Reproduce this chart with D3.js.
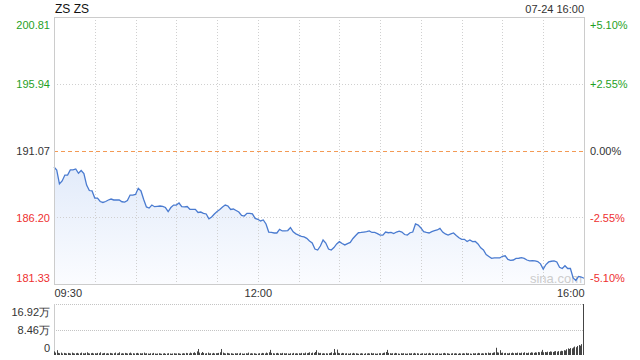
<!DOCTYPE html>
<html lang="en">
<head>
<meta charset="utf-8">
<style>
    body { margin: 0; background: #fff; }
    text { font-family: "Liberation Sans", Arial, sans-serif; }
</style>
</head>
<body>
    <script src='https://d3js.org/d3.v7.min.js'></script>

    <script>
        const title = "ZS ZS";
        const stamp = "07-24 16:00";
        const prevClose = 191.07;

        // left / right axis labels
        const priceTicks = [181.33, 186.20, 191.07, 195.94, 200.81];
        const pctTicks = [-5.10, -2.55, 0, 2.55, 5.10];
        const timeTicks = [0, 150, 390];
        const timeLabels = ["09:30", "12:00", "16:00"];
        const volTicks = [0, 8.46, 16.92];
        const volLabels = ["0", "8.46万", "16.92万"];

        // price every 2 minutes from 09:30
        const priceStep = 2;
        const prices = [
            189.87, 189.65, 188.63, 188.85, 189.28, 189.28, 189.65, 189.65, 189.72, 189.41,
            189.61, 189.39, 188.55, 188.15, 188.12, 187.60, 187.60, 187.35, 187.28, 187.35,
            187.46, 187.53, 187.46, 187.46, 187.46, 187.33, 187.31, 187.42, 187.82, 187.82,
            187.86, 188.31, 188.12, 187.49, 186.95, 186.87, 187.09, 186.97, 187.00, 187.02,
            187.00, 186.91, 186.62, 186.91, 187.09, 187.09, 187.24, 186.97, 186.95, 186.98,
            186.78, 186.78, 186.77, 186.55, 186.58, 186.49, 186.44, 186.09, 186.22, 186.44,
            186.62, 186.77, 186.95, 187.09, 187.02, 186.77, 186.80, 186.69, 186.58, 186.33,
            186.29, 186.49, 186.49, 186.45, 186.12, 186.05, 185.93, 186.00, 185.71, 185.12,
            185.09, 185.05, 185.05, 185.31, 185.20, 185.20, 185.23, 185.45, 185.14, 184.99,
            184.89, 184.80, 184.76, 184.66, 184.47, 184.32, 183.88, 183.81, 184.10, 184.54,
            184.32, 183.88, 183.81, 183.99, 184.25, 184.42, 184.28, 184.18, 184.28, 184.36,
            184.65, 184.87, 185.07, 185.09, 185.12, 185.15, 185.20, 185.09, 185.09, 185.01,
            184.90, 184.90, 185.12, 185.07, 185.10, 185.01, 185.12, 185.18, 185.12, 184.94,
            184.90, 185.07, 185.12, 185.71, 185.63, 185.42, 185.15, 185.09, 185.05, 185.15,
            185.22, 185.27, 185.39, 185.12, 184.98, 184.90, 184.98, 185.05, 184.87, 184.70,
            184.59, 184.59, 184.43, 184.54, 184.42, 184.43, 184.25, 183.97, 183.81, 183.48,
            183.34, 183.20, 183.23, 183.23, 183.23, 183.35, 183.39, 183.12, 183.06, 183.08,
            183.20, 183.21, 183.25, 183.20, 183.08, 183.02, 183.04, 183.01, 182.97, 182.80,
            182.42, 182.75, 182.94, 182.99, 183.02, 182.94, 182.55, 182.46, 182.66, 182.46,
            182.46, 181.77, 181.59, 181.88, 181.84, 181.75
        ];

        // volume per minute, in 万 shares
        const volumes = [
            1.2, 0.8, 1.6, 0.7, 0.6, 0.8, 0.5, 0.7, 0.6, 0.5, 0.7, 0.6, 0.5, 0.8, 0.6, 0.5, 0.6, 0.7, 0.5, 0.6, 0.8, 0.6, 0.5, 0.7, 0.9, 0.6, 0.5, 0.6, 0.7, 0.5,
            0.6, 0.5, 0.7, 0.6, 0.9, 0.5, 0.6, 0.7, 0.5, 0.6, 0.5, 0.7, 0.6, 0.5, 0.6, 0.8, 0.5, 0.6, 0.9, 0.5, 0.6, 0.5, 0.7, 0.6, 0.5, 0.6, 0.8, 0.5, 0.6, 0.5,
            0.6, 0.7, 0.5, 0.6, 0.5, 0.6, 0.8, 0.5, 0.6, 0.5, 0.4, 0.6, 0.5, 0.7, 0.5, 0.4, 0.5, 0.6, 0.5, 0.4, 0.5, 0.6, 0.4, 0.5, 0.6, 0.5, 0.4, 0.5, 0.6, 0.5,
            0.5, 0.6, 0.5, 0.4, 0.5, 0.6, 0.5, 0.7, 0.6, 0.5, 0.8, 0.6, 0.7, 0.9, 0.6, 1.2, 2.0, 0.8, 0.6, 1.0, 0.7, 0.5, 0.6, 0.8, 0.5, 0.6, 0.5, 0.7, 0.5, 0.6,
            0.6, 0.7, 0.9, 2.0, 0.8, 0.6, 0.5, 0.7, 0.6, 0.5, 0.6, 0.5, 0.4, 0.6, 0.5, 0.6, 0.5, 0.7, 0.5, 0.4, 0.5, 0.6, 0.5, 0.8, 0.5, 0.6, 0.5, 0.6, 0.5, 0.4,
            0.5, 0.6, 0.5, 0.7, 0.6, 0.5, 0.8, 0.6, 0.9, 1.7, 0.7, 0.6, 0.5, 0.6, 0.7, 0.5, 0.6, 0.5, 0.7, 0.6, 0.5, 0.6, 0.5, 0.4, 0.6, 0.5, 0.7, 0.5, 0.6, 0.5,
            0.6, 0.5, 0.7, 0.6, 0.5, 0.8, 0.6, 0.7, 0.9, 0.6, 0.8, 0.7, 1.0, 1.6, 0.8, 0.6, 0.7, 0.5, 0.6, 0.5, 0.6, 0.5, 0.6, 0.7, 0.9, 0.6, 2.0, 0.8, 1.8, 0.7,
            0.6, 0.5, 0.7, 0.6, 0.5, 0.6, 0.5, 0.4, 0.6, 0.5, 0.7, 0.5, 0.6, 0.5, 0.4, 0.5, 0.6, 0.5, 0.4, 0.6, 0.5, 0.6, 0.5, 0.7, 0.5, 0.6, 0.5, 0.4, 0.5, 0.6,
            0.6, 0.5, 0.7, 0.8, 1.0, 1.7, 0.7, 0.6, 0.5, 0.6, 0.5, 0.7, 0.6, 0.5, 0.4, 0.6, 0.5, 0.6, 0.5, 0.4, 0.5, 0.6, 0.5, 0.6, 0.5, 0.7, 0.5, 0.6, 0.5, 0.4,
            0.5, 0.6, 0.5, 0.4, 0.6, 0.5, 0.7, 0.5, 0.6, 0.5, 0.4, 0.5, 0.6, 0.5, 0.4, 0.5, 0.6, 0.7, 0.5, 0.6, 0.5, 0.4, 0.5, 0.6, 0.5, 0.6, 0.5, 0.4, 0.6, 0.5,
            0.5, 0.6, 0.5, 0.7, 0.5, 0.6, 0.5, 0.4, 0.6, 0.5, 0.6, 0.5, 0.7, 0.6, 0.5, 0.6, 0.5, 0.7, 0.6, 0.8, 0.6, 0.7, 0.6, 0.8, 0.9, 2.4, 0.9, 0.8, 1.6, 0.7,
            0.8, 0.6, 0.7, 0.6, 0.5, 0.7, 0.6, 0.8, 0.6, 0.7, 0.6, 0.8, 0.7, 0.6, 0.8, 0.7, 0.9, 0.7, 0.6, 0.8, 0.7, 0.9, 0.8, 0.7, 0.9, 0.8, 1.0, 0.9, 1.1, 1.7,
            0.9, 1.0, 0.9, 1.1, 1.0, 1.2, 1.1, 1.0, 1.2, 1.3, 1.1, 1.3, 1.2, 1.4, 1.3, 1.6, 1.5, 1.9, 2.2, 2.0, 2.3, 2.2, 2.5, 2.8, 2.6, 3.0, 3.3, 3.1, 3.6, 5.6,
            16.92
        ];

        const width = 640, height = 360;
        const plotLeft = 54, plotRight = 584, plotTop = 17, plotBottom = 284;
        const volTop = 304, volBottom = 355;

        const green = "#1f9f1f", red = "#ee3030", dark = "#333";

        var svg = d3.select("body").append("svg")
            .attr("width", width)
            .attr("height", height);

        var x = d3.scaleLinear().domain([0, 390]).range([plotLeft, plotRight]);
        var y = d3.scaleLinear().domain([181.33, 200.81]).range([plotBottom, plotTop]);
        var yPct = d3.scaleLinear().domain([-5.10, 5.10]).range([plotBottom, plotTop]);
        var yVol = d3.scaleLinear().domain([0, 16.92]).range([volBottom, volTop]);

        var defs = svg.append("defs");
        var grad = defs.append("linearGradient")
            .attr("id", "fillGrad")
            .attr("gradientUnits", "userSpaceOnUse")
            .attr("x1", 0).attr("x2", 0)
            .attr("y1", y(d3.max(prices))).attr("y2", plotBottom);
        grad.append("stop").attr("offset", "0%").attr("stop-color", "#e2ebfa");
        grad.append("stop").attr("offset", "100%").attr("stop-color", "#fbfcff");

        var pts = prices.map((p, i) => [i * priceStep, p]);

        svg.append("path")
            .datum(pts)
            .attr("fill", "url(#fillGrad)")
            .attr("d", d3.area().x(d => x(d[0])).y0(plotBottom).y1(d => y(d[1])));

        // vertical grid, every half hour
        svg.append("g").selectAll("line")
            .data(d3.range(30, 390, 30))
            .enter().append("line")
            .attr("x1", d => Math.round(x(d)) + 0.5).attr("x2", d => Math.round(x(d)) + 0.5)
            .attr("y1", plotTop).attr("y2", plotBottom)
            .attr("stroke", "#d0d0d0")
            .attr("stroke-dasharray", "1,2");

        // horizontal grid
        svg.append("g").selectAll("line")
            .data([186.20, 195.94])
            .enter().append("line")
            .attr("x1", plotLeft).attr("x2", plotRight)
            .attr("y1", d => Math.round(y(d)) + 0.5).attr("y2", d => Math.round(y(d)) + 0.5)
            .attr("stroke", "#d0d0d0")
            .attr("stroke-dasharray", "1,2");

        // watermark
        svg.append("text")
            .attr("x", plotRight - 2).attr("y", plotBottom - 1)
            .attr("text-anchor", "end")
            .attr("font-size", 13)
            .attr("fill", "#cccccc")
            .text("sina.com");

        // previous close
        svg.append("line")
            .attr("x1", plotLeft).attr("x2", plotRight)
            .attr("y1", Math.round(y(prevClose)) + 0.5).attr("y2", Math.round(y(prevClose)) + 0.5)
            .attr("stroke", "#f39a55")
            .attr("stroke-dasharray", "4,3");

        svg.append("path")
            .datum(pts)
            .attr("fill", "none")
            .attr("stroke", "#4a7bd0")
            .attr("stroke-width", 1.3)
            .attr("d", d3.line().x(d => x(d[0])).y(d => y(d[1])));

        // frame
        svg.append("rect")
            .attr("x", plotLeft + 0.5).attr("y", plotTop + 0.5)
            .attr("width", plotRight - plotLeft).attr("height", plotBottom - plotTop)
            .attr("fill", "none")
            .attr("stroke", "#cccccc");

        function colorOf(v, mid) {
            if (v > mid + 0.001) return green;
            if (v < mid - 0.001) return red;
            return dark;
        }

        var gl = svg.append("g")
            .attr("transform", "translate(" + plotLeft + ",0)")
            .call(d3.axisLeft(y).tickValues(priceTicks).tickSize(0).tickPadding(4)
                .tickFormat(d => d.toFixed(2)));
        var gr = svg.append("g")
            .attr("transform", "translate(" + plotRight + ",0)")
            .call(d3.axisRight(yPct).tickValues(pctTicks).tickSize(0).tickPadding(6)
                .tickFormat(d => (d > 0 ? "+" : "") + d.toFixed(2) + "%"));
        [gl, gr].forEach(function (g) {
            g.select(".domain").remove();
            g.selectAll("text")
                .attr("font-size", 11)
                .attr("font-family", "Liberation Sans, Arial, sans-serif")
                .attr("dy", (d, i) => i == 0 ? "-0.2em" : (i == 4 ? "1.05em" : "0.35em"));
        });
        gl.selectAll("text").attr("fill", d => colorOf(d, prevClose));
        gr.selectAll("text").attr("fill", d => colorOf(d, 0));

        // time axis
        var gt = svg.append("g")
            .attr("transform", "translate(0," + plotBottom + ")")
            .call(d3.axisBottom(x).tickValues(timeTicks).tickSize(0).tickPadding(5)
                .tickFormat((d, i) => timeLabels[i]));
        gt.select(".domain").remove();
        gt.selectAll("text")
            .attr("font-size", 11)
            .attr("font-family", "Liberation Sans, Arial, sans-serif")
            .attr("fill", dark)
            .attr("text-anchor", (d, i) => i == 0 ? "start" : (i == timeTicks.length - 1 ? "end" : "middle"));

        // title and stamp
        svg.append("text")
            .attr("x", plotLeft + 1).attr("y", 13)
            .attr("font-size", 12)
            .attr("fill", "#111")
            .text(title);
        svg.append("text")
            .attr("x", plotRight).attr("y", 13)
            .attr("text-anchor", "end")
            .attr("font-size", 11)
            .attr("fill", dark)
            .text(stamp);

        // volume panel
        svg.append("g").selectAll("line")
            .data([8.46, 16.92])
            .enter().append("line")
            .attr("x1", plotLeft).attr("x2", plotRight)
            .attr("y1", d => Math.round(yVol(d)) + 0.5).attr("y2", d => Math.round(yVol(d)) + 0.5)
            .attr("stroke", "#c4c4c4")
            .attr("stroke-dasharray", "1,1");
        svg.append("line")
            .attr("x1", plotLeft + 0.5).attr("x2", plotLeft + 0.5)
            .attr("y1", volTop).attr("y2", volBottom)
            .attr("stroke", "#cccccc");

        svg.append("g").selectAll("rect")
            .data(volumes)
            .enter().append("rect")
            .attr("x", (d, i) => Math.min(Math.round(x(i)), plotRight - 1))
            .attr("y", d => yVol(d))
            .attr("width", 1)
            .attr("height", d => volBottom - yVol(d))
            .attr("fill", "#444");

        var gv = svg.append("g")
            .attr("transform", "translate(" + plotLeft + ",0)")
            .call(d3.axisLeft(yVol).tickValues(volTicks).tickSize(0).tickPadding(4)
                .tickFormat((d, i) => volLabels[i]));
        gv.select(".domain").remove();
        gv.selectAll("text")
            .attr("font-size", 11)
            .attr("font-family", "Liberation Sans, Arial, sans-serif")
            .attr("fill", dark)
            .attr("dy", (d, i) => i == 0 ? "-0.3em" : (i == 2 ? "1.05em" : "0.35em"));
    </script>

</body>

</html>
